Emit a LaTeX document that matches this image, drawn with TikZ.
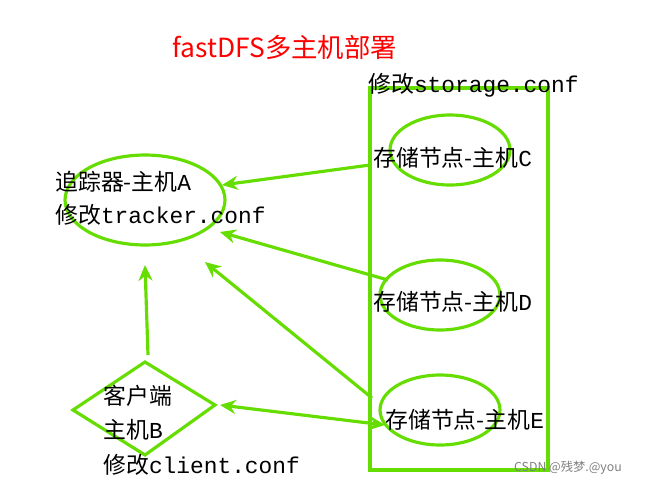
\documentclass[tikz,border=0pt]{standalone}
\usepackage{fontspec}
\setmainfont{Liberation Mono}
\newfontfamily\cjk{Noto Sans CJK SC}
\newfontfamily\sans{Noto Sans CJK SC}
\usetikzlibrary{arrows.meta,shapes.geometric}
\definecolor{gr}{HTML}{66DD00}
\begin{document}
\begin{tikzpicture}[x=0.02cm,y=-0.02cm,
  g/.style={draw=gr,line width=1.8pt},
  arr/.style={draw=gr,line width=1.8pt,-{Stealth[length=9pt,width=8pt]}},
  txt/.style={anchor=west,inner sep=0pt,font=\fontsize{13}{15}\selectfont}]
\useasboundingbox (0,0) rectangle (665,487);
\node[font=\sans\fontsize{15}{17}\selectfont,text=red] (title) at (285,47) {fastDFS多主机部署};
\draw[g] (370,88) rectangle (548,470);
\node[g,ellipse,inner sep=0pt,minimum width=3.2cm,minimum height=1.8cm] (A) at (145,200) {};
\node[g,ellipse,inner sep=0pt,minimum width=2.4cm,minimum height=1.4cm] (C) at (450,150) {};
\node[g,ellipse,inner sep=0pt,minimum width=2.4cm,minimum height=1.4cm] (D) at (440,295) {};
\node[g,ellipse,inner sep=0pt,minimum width=2.4cm,minimum height=1.4cm] (E) at (440,410) {};
\draw[g] (73,410) -- (145,362) -- (215,405) -- (145,455) -- cycle;
\coordinate (Bt) at (148,355);
\coordinate (Br) at (220,405);
\node[txt] (ts) at (368,85) {{\cjk 修改}storage.conf};
\node[txt] (ta1) at (55,182) {{\cjk 追踪器-主机}A};
\node[txt] (ta2) at (55,215) {{\cjk 修改}tracker.conf};
\node[txt] (tc) at (373,158) {{\cjk 存储节点-主机}C};
\node[txt] (td) at (373,302) {{\cjk 存储节点-主机}D};
\node[txt] (te) at (385,420) {{\cjk 存储节点-主机}E};
\node[txt] (tb1) at (103,396) {{\cjk 客户端}};
\node[txt] (tb2) at (103,430) {{\cjk 主机}B};
\node[txt] (tb3) at (103,465) {{\cjk 修改}client.conf};
\coordinate (a1) at (222,185);
\coordinate (a2) at (220,232);
\coordinate (a3) at (205,262);
\coordinate (a4) at (145,265);
\coordinate (c1) at (370,165);
\coordinate (d1) at (388,280);
\coordinate (e1) at (372,398);
\coordinate (e2) at (385,425);
\draw[arr] (c1) -- (a1);
\draw[arr] (d1) -- (a2);
\draw[arr] (e1) -- (a3);
\draw[arr] (Bt) -- (a4);
\draw[arr,{Stealth[length=9pt,width=8pt]}-{Stealth[length=9pt,width=8pt]}] (Br) -- (e2);
\node[font=\sans\fontsize{7}{8}\selectfont,text=gray,anchor=west] (wm) at (508,468) {CSDN @残梦.@you};
\end{tikzpicture}
\end{document}
